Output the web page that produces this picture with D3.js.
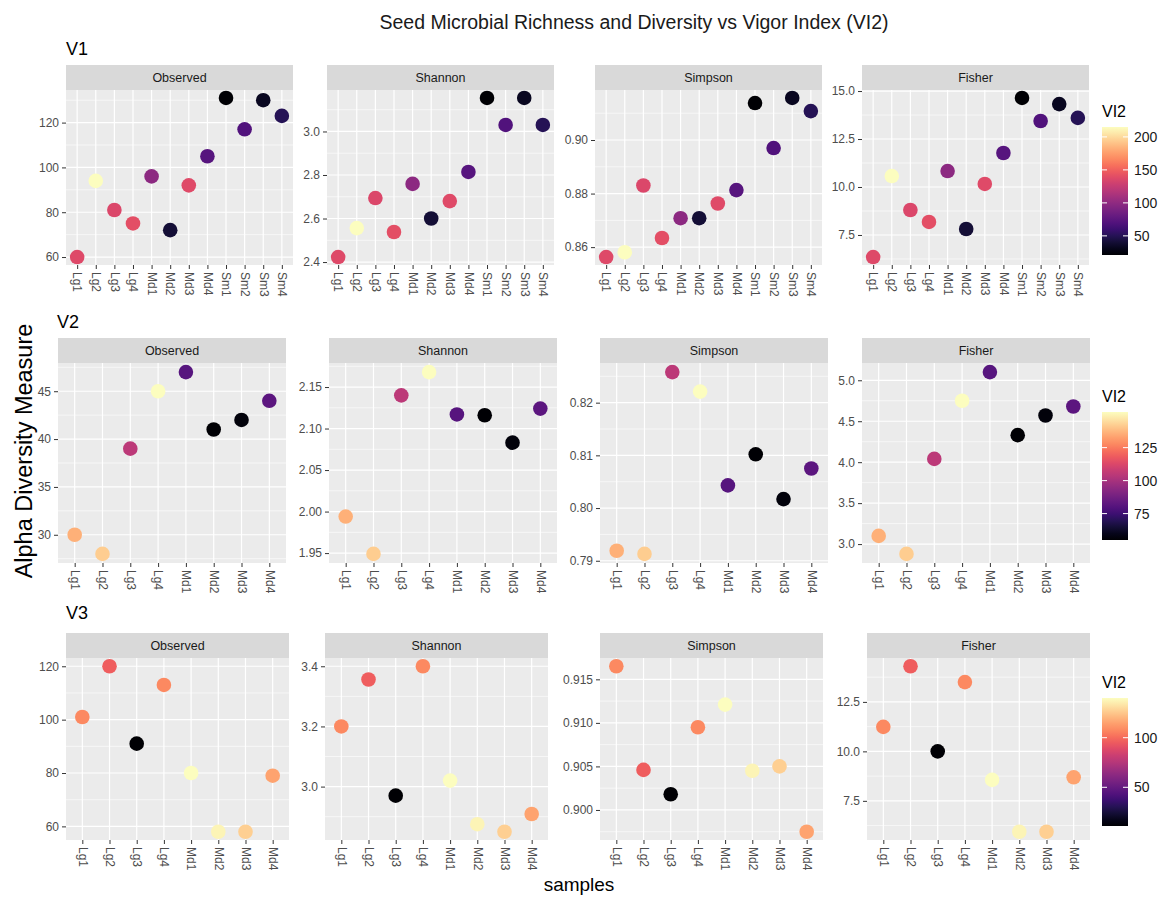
<!DOCTYPE html>
<html>
<head>
<meta charset="utf-8">
<script src="https://cdn.jsdelivr.net/npm/d3@7"></script>
<style>
body { margin: 0; background: #fff; }
text { font-family: "Liberation Sans", Arial, sans-serif; }
</style>
</head>
<body>
<div id="chart"></div>
<script>
const chartTitle = 'Seed Microbial Richness and Diversity vs Vigor Index (VI2)';
const measures = ['Observed', 'Shannon', 'Simpson', 'Fisher'];

const samplesV1 = ['Lg1', 'Lg2', 'Lg3', 'Lg4', 'Md1', 'Md2', 'Md3', 'Md4', 'Sm1', 'Sm2', 'Sm3', 'Sm4'];
const samplesV2 = ['Lg1', 'Lg2', 'Lg3', 'Lg4', 'Md1', 'Md2', 'Md3', 'Md4'];
const samplesV3 = ['Lg1', 'Lg2', 'Lg3', 'Lg4', 'Md1', 'Md2', 'Md3', 'Md4'];

// V1
const v1Observed = [60, 94, 81, 75, 96, 72, 92, 105, 131, 117, 130, 123];
const v1Shannon = [2.423, 2.556, 2.694, 2.538, 2.759, 2.600, 2.680, 2.814, 3.154, 3.030, 3.154, 3.030];
const v1Simpson = [0.8563, 0.8581, 0.8830, 0.8634, 0.8708, 0.8708, 0.8763, 0.8813, 0.9138, 0.8970, 0.9157, 0.9108];
const v1Fisher = [6.35, 10.57, 8.80, 8.18, 10.83, 7.81, 10.16, 11.77, 14.64, 13.44, 14.32, 13.60];
const v1VI2 = [137, 215, 136, 140, 99, 40, 138, 73, 21, 70, 33, 50];

// V2
const v2Observed = [30, 28, 39, 45, 47, 41, 42, 44];
const v2Shannon = [1.994, 1.949, 2.140, 2.168, 2.117, 2.116, 2.083, 2.124];
const v2Simpson = [0.7919, 0.7913, 0.8258, 0.8221, 0.8043, 0.8102, 0.8017, 0.8075];
const v2Fisher = [3.10, 2.88, 4.04, 4.75, 5.10, 4.33, 4.57, 4.68];
const v2VI2 = [136, 142, 105, 152, 81, 55, 57, 82];

// V3
const v3Observed = [101, 120, 91, 113, 80, 58, 58, 79];
const v3Shannon = [3.20, 3.356, 2.970, 3.40, 3.02, 2.875, 2.85, 2.909];
const v3Simpson = [0.9165, 0.9046, 0.9018, 0.9095, 0.9121, 0.9045, 0.9050, 0.8975];
const v3Fisher = [11.24, 14.30, 10.00, 13.50, 8.56, 5.94, 5.94, 8.69];
const v3VI2 = [108, 96, 11, 108, 140, 137, 127, 115];

// y ticks per facet (Observed, Shannon, Simpson, Fisher)
const v1Ticks = [[60, 80, 100, 120], [2.4, 2.6, 2.8, 3.0], [0.86, 0.88, 0.90], [7.5, 10, 12.5, 15]];
const v1TickLabels = [['60', '80', '100', '120'], ['2.4', '2.6', '2.8', '3.0'], ['0.86', '0.88', '0.90'], ['7.5', '10.0', '12.5', '15.0']];
const v2Ticks = [[30, 35, 40, 45], [1.95, 2.00, 2.05, 2.10, 2.15], [0.79, 0.80, 0.81, 0.82], [3.0, 3.5, 4.0, 4.5, 5.0]];
const v2TickLabels = [['30', '35', '40', '45'], ['1.95', '2.00', '2.05', '2.10', '2.15'], ['0.79', '0.80', '0.81', '0.82'], ['3.0', '3.5', '4.0', '4.5', '5.0']];
const v3Ticks = [[60, 80, 100, 120], [3.0, 3.2, 3.4], [0.900, 0.905, 0.910, 0.915], [7.5, 10, 12.5]];
const v3TickLabels = [['60', '80', '100', '120'], ['3.0', '3.2', '3.4'], ['0.900', '0.905', '0.910', '0.915'], ['7.5', '10.0', '12.5']];

const v1LegendTicks = [50, 100, 150, 200];
const v2LegendTicks = [75, 100, 125];
const v3LegendTicks = [50, 100];

const rows = [
    {name: 'V1', samples: samplesV1, values: [v1Observed, v1Shannon, v1Simpson, v1Fisher], vi2: v1VI2,
     ticks: v1Ticks, tickLabels: v1TickLabels, legendTicks: v1LegendTicks,
     labelX: 66, labelY: 55, stripTop: 65, plotH: 175, lefts: [66, 327, 595, 862], panelW: 227, legendTop: 127},
    {name: 'V2', samples: samplesV2, values: [v2Observed, v2Shannon, v2Simpson, v2Fisher], vi2: v2VI2,
     ticks: v2Ticks, tickLabels: v2TickLabels, legendTicks: v2LegendTicks,
     labelX: 57, labelY: 328, stripTop: 338, plotH: 200, lefts: [58, 329, 600, 862], panelW: 228, legendTop: 412},
    {name: 'V3', samples: samplesV3, values: [v3Observed, v3Shannon, v3Simpson, v3Fisher], vi2: v3VI2,
     ticks: v3Ticks, tickLabels: v3TickLabels, legendTicks: v3LegendTicks,
     labelX: 66, labelY: 619, stripTop: 633, plotH: 182, lefts: [66, 325, 600, 867], panelW: 223, legendTop: 698}
];

const width = 1163;
const height = 897;
const stripH = 25;
const barX = 1102, barW = 26, barH = 128;

const svg = d3.select('#chart')
    .append('svg')
    .attr('width', width)
    .attr('height', height);

svg.append('rect').attr('width', width).attr('height', height).attr('fill', '#fff');
const defs = svg.append('defs');

svg.append('text')
    .attr('x', 634)
    .attr('y', 29)
    .attr('text-anchor', 'middle')
    .attr('fill', '#1a1a1a')
    .style('font-size', '19.5px')
    .text(chartTitle);

svg.append('text')
    .attr('transform', 'translate(32,451) rotate(-90)')
    .attr('text-anchor', 'middle')
    .attr('fill', '#000')
    .style('font-size', '23.5px')
    .text('Alpha Diversity Measure');

svg.append('text')
    .attr('x', 579)
    .attr('y', 891)
    .attr('text-anchor', 'middle')
    .attr('fill', '#000')
    .style('font-size', '19px')
    .text('samples');

rows.forEach((row, r) => {
    const color = d3.scaleSequential(d3.interpolateMagma).domain(d3.extent(row.vi2));
    const plotTop = row.stripTop + stripH;

    svg.append('text')
        .attr('x', row.labelX)
        .attr('y', row.labelY)
        .attr('fill', '#000')
        .style('font-size', '18px')
        .text(row.name);

    measures.forEach((m, i) => {
        const vals = row.values[i];
        const w = row.panelW;
        const h = row.plotH;

        const x = d3.scalePoint()
            .domain(row.samples)
            .range([0, w])
            .padding(0.6);

        const [lo, hi] = d3.extent(vals);
        const pad = (hi - lo) * 0.05;
        const y = d3.scaleLinear()
            .domain([lo - pad, hi + pad])
            .range([h, 0]);

        const ticks = row.ticks[i];
        const step = ticks[1] - ticks[0];
        const minor = [ticks[0] - step / 2].concat(ticks.map(t => t + step / 2))
            .filter(t => t >= lo - pad && t <= hi + pad);

        const g = svg.append('g')
            .attr('transform', `translate(${row.lefts[i]},${plotTop})`);

        // strip
        g.append('rect')
            .attr('y', -stripH)
            .attr('width', w)
            .attr('height', stripH)
            .attr('fill', '#d9d9d9');
        g.append('text')
            .attr('x', w / 2)
            .attr('y', -stripH / 2)
            .attr('dy', '0.35em')
            .attr('text-anchor', 'middle')
            .attr('fill', '#1a1a1a')
            .style('font-size', '12.5px')
            .text(m);

        g.append('rect')
            .attr('width', w)
            .attr('height', h)
            .attr('fill', '#ebebeb');

        g.selectAll('.minor')
            .data(minor)
            .enter().append('line')
            .attr('x1', 0).attr('x2', w)
            .attr('y1', d => y(d)).attr('y2', d => y(d))
            .attr('stroke', '#fff')
            .attr('stroke-width', 0.6);

        g.selectAll('.major')
            .data(ticks)
            .enter().append('line')
            .attr('x1', 0).attr('x2', w)
            .attr('y1', d => y(d)).attr('y2', d => y(d))
            .attr('stroke', '#fff')
            .attr('stroke-width', 1.2);

        g.selectAll('.vgrid')
            .data(row.samples)
            .enter().append('line')
            .attr('x1', d => x(d)).attr('x2', d => x(d))
            .attr('y1', 0).attr('y2', h)
            .attr('stroke', '#fff')
            .attr('stroke-width', 1.2);

        g.selectAll('.dot')
            .data(row.samples)
            .enter().append('circle')
            .attr('cx', d => x(d))
            .attr('cy', (d, k) => y(vals[k]))
            .attr('r', 7.3)
            .attr('fill', (d, k) => color(row.vi2[k]));

        const yAxis = d3.axisLeft(y)
            .tickValues(ticks)
            .tickFormat((d, k) => row.tickLabels[i][k])
            .tickSize(4)
            .tickPadding(3);

        const ya = g.append('g').call(yAxis);
        ya.select('.domain').remove();
        ya.selectAll('line').attr('stroke', '#333');
        ya.selectAll('text')
            .attr('fill', '#4d4d4d')
            .style('font-size', '12px')
            .style('font-family', '"Liberation Sans", Arial, sans-serif');

        const xAxis = d3.axisBottom(x).tickSize(4);
        const xa = g.append('g')
            .attr('transform', `translate(0,${h})`)
            .call(xAxis);
        xa.select('.domain').remove();
        xa.selectAll('line').attr('stroke', '#333');
        xa.selectAll('text')
            .attr('transform', 'rotate(90)')
            .attr('x', 7)
            .attr('y', 0)
            .attr('dy', '0.35em')
            .attr('text-anchor', 'start')
            .attr('fill', '#4d4d4d')
            .style('font-size', '12px')
            .style('font-family', '"Liberation Sans", Arial, sans-serif');
    });

    // colour bar legend
    const grad = defs.append('linearGradient')
        .attr('id', 'grad' + r)
        .attr('x1', 0).attr('y1', 1)
        .attr('x2', 0).attr('y2', 0);
    d3.range(0, 1.0001, 0.05).forEach(t => {
        grad.append('stop')
            .attr('offset', t)
            .attr('stop-color', d3.interpolateMagma(t));
    });

    svg.append('text')
        .attr('x', barX)
        .attr('y', row.legendTop - 10)
        .attr('fill', '#000')
        .style('font-size', '16px')
        .text('VI2');

    svg.append('rect')
        .attr('x', barX)
        .attr('y', row.legendTop)
        .attr('width', barW)
        .attr('height', barH)
        .attr('fill', `url(#grad${r})`);

    const ly = d3.scaleLinear()
        .domain(d3.extent(row.vi2))
        .range([row.legendTop + barH, row.legendTop]);

    const lg = svg.append('g');
    row.legendTicks.forEach(t => {
        lg.append('line')
            .attr('x1', barX).attr('x2', barX + 5)
            .attr('y1', ly(t)).attr('y2', ly(t))
            .attr('stroke', '#fff').attr('stroke-width', 1);
        lg.append('line')
            .attr('x1', barX + barW - 5).attr('x2', barX + barW)
            .attr('y1', ly(t)).attr('y2', ly(t))
            .attr('stroke', '#fff').attr('stroke-width', 1);
        lg.append('text')
            .attr('x', barX + barW + 6)
            .attr('y', ly(t))
            .attr('dy', '0.35em')
            .attr('fill', '#1a1a1a')
            .style('font-size', '14px')
            .text(t);
    });
});
</script>
</body>
</html>
